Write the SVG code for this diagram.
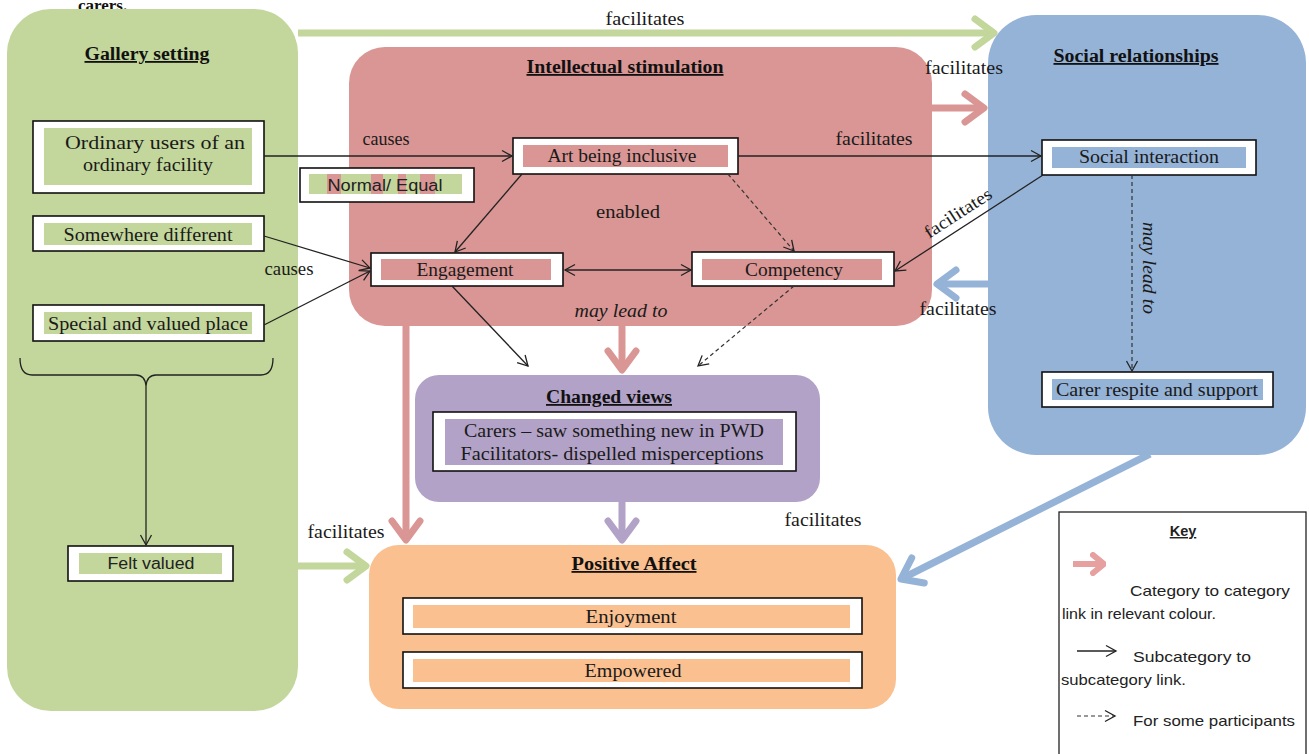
<svg xmlns="http://www.w3.org/2000/svg" width="1309" height="754" viewBox="0 0 1309 754">
<style>
.t{font-family:"Liberation Serif","Times New Roman",serif;font-size:19px;fill:#1a1a1a;text-anchor:middle}
.h{font-family:"Liberation Serif","Times New Roman",serif;font-size:18px;font-weight:bold;fill:#111;text-anchor:middle;text-decoration:underline}
.s{font-family:"Liberation Sans",Arial,sans-serif;font-size:16px;fill:#222;text-anchor:middle}
.k{font-family:"Liberation Sans",Arial,sans-serif;font-size:14.5px;fill:#222}
.lb{font-family:"Liberation Serif","Times New Roman",serif;font-size:18px;fill:#1a1a1a;text-anchor:middle}
.box{fill:#fff;stroke:#111;stroke-width:1.6}
.ln{fill:none;stroke:#222;stroke-width:1.3}
.dash{fill:none;stroke:#333;stroke-width:1.2;stroke-dasharray:4 3}
.cat{fill:none;stroke-width:7}
</style>
<defs>
<marker id="a" markerUnits="userSpaceOnUse" viewBox="-12 -7 14 14" markerWidth="14" markerHeight="14" refX="0" refY="0" orient="auto-start-reverse">
<path d="M-10,-5.5 L0,0 L-10,5.5" fill="none" stroke="#222" stroke-width="1.3"/>
</marker>
<marker id="g" markerUnits="userSpaceOnUse" viewBox="-24 -20 28 40" markerWidth="28" markerHeight="40" refX="0" refY="0" orient="auto">
<path d="M-19,-14 L0,0 L-19,14" fill="none" stroke="#c3d69b" stroke-width="7" stroke-linecap="round" stroke-linejoin="round"/>
</marker>
<marker id="r" markerUnits="userSpaceOnUse" viewBox="-24 -20 28 40" markerWidth="28" markerHeight="40" refX="0" refY="0" orient="auto">
<path d="M-19,-14 L0,0 L-19,14" fill="none" stroke="#d99694" stroke-width="7" stroke-linecap="round" stroke-linejoin="round"/>
</marker>
<marker id="b" markerUnits="userSpaceOnUse" viewBox="-24 -20 28 40" markerWidth="28" markerHeight="40" refX="0" refY="0" orient="auto">
<path d="M-19,-14 L0,0 L-19,14" fill="none" stroke="#95b3d7" stroke-width="7" stroke-linecap="round" stroke-linejoin="round"/>
</marker>
<marker id="p" markerUnits="userSpaceOnUse" viewBox="-24 -20 28 40" markerWidth="28" markerHeight="40" refX="0" refY="0" orient="auto">
<path d="M-19,-14 L0,0 L-19,14" fill="none" stroke="#b2a2c7" stroke-width="7" stroke-linecap="round" stroke-linejoin="round"/>
</marker>
<marker id="kr" markerUnits="userSpaceOnUse" viewBox="-14 -12 16 24" markerWidth="16" markerHeight="24" refX="0" refY="0" orient="auto">
<path d="M-11,-9 L0,0 L-11,9" fill="none" stroke="#e5a09f" stroke-width="6" stroke-linecap="round" stroke-linejoin="round"/>
</marker>
</defs>
<rect width="1309" height="754" fill="#fff"/>
<text x="78" y="11" style="font-family:'Liberation Serif',serif;font-size:17px;font-weight:bold;fill:#111">carers.</text>

<g id="gallery">
<rect x="7" y="9" width="291" height="702" rx="44" fill="#c3d69b"/>
<text class="h" x="147" y="60" textLength="125" lengthAdjust="spacingAndGlyphs">Gallery setting</text>
</g>
<g id="intellectual">
<rect x="349" y="47" width="583" height="279" rx="36" fill="#d99694"/>
<text class="h" x="625" y="73" textLength="197" lengthAdjust="spacingAndGlyphs">Intellectual stimulation</text>
</g>
<g id="social">
<rect x="988" y="15" width="318" height="440" rx="48" fill="#95b3d7"/>
<text class="h" x="1136" y="62" textLength="165" lengthAdjust="spacingAndGlyphs">Social relationships</text>
</g>
<g id="changed">
<rect x="415" y="375" width="405" height="127" rx="24" fill="#b2a2c7"/>
<text class="h" x="609" y="403" textLength="126" lengthAdjust="spacingAndGlyphs">Changed views</text>
<rect class="box" x="433" y="412" width="363" height="59"/>
<rect x="445" y="419" width="338" height="46" fill="#b2a2c7"/>
<text class="t" x="614" y="437" textLength="300" lengthAdjust="spacingAndGlyphs">Carers – saw something new in PWD</text>
<text class="t" x="612" y="460" textLength="303" lengthAdjust="spacingAndGlyphs">Facilitators- dispelled misperceptions</text>
</g>
<g id="positive">
<rect x="369" y="545" width="527" height="164" rx="30" fill="#fac08f"/>
<text class="h" x="634" y="570" textLength="125" lengthAdjust="spacingAndGlyphs">Positive Affect</text>
</g>
<g id="enjoyment">
<rect class="box" x="403" y="598" width="459" height="36"/>
<rect x="413" y="605" width="437" height="23" fill="#fac08f"/>
<text class="t" x="631" y="623" textLength="91" lengthAdjust="spacingAndGlyphs">Enjoyment</text>
</g>
<g id="empowered">
<rect class="box" x="403" y="652" width="459" height="36"/>
<rect x="413" y="659" width="437" height="23" fill="#fac08f"/>
<text class="t" x="633" y="677" textLength="97" lengthAdjust="spacingAndGlyphs">Empowered</text>
</g>
<g id="ordinary">
<rect class="box" x="33" y="121" width="231" height="72"/>
<rect x="44" y="128" width="208" height="57" fill="#c3d69b"/>
<text class="t" x="155" y="149" textLength="180" lengthAdjust="spacingAndGlyphs">Ordinary users of an</text>
<text class="t" x="148" y="171" textLength="130" lengthAdjust="spacingAndGlyphs">ordinary facility</text>
</g>
<g id="somewhere">
<rect class="box" x="33" y="216" width="231" height="35"/>
<rect x="44" y="223" width="208" height="22" fill="#c3d69b"/>
<text class="t" x="148" y="241" textLength="169" lengthAdjust="spacingAndGlyphs">Somewhere different</text>
</g>
<g id="special">
<rect class="box" x="33" y="305" width="231" height="36"/>
<rect x="44" y="312" width="208" height="22" fill="#c3d69b"/>
<text class="t" x="148" y="330" textLength="200" lengthAdjust="spacingAndGlyphs">Special and valued place</text>
</g>
<g id="felt">
<rect class="box" x="68" y="546" width="165" height="35"/>
<rect x="79" y="553" width="143" height="21" fill="#c3d69b"/>
<text class="s" x="151" y="569" textLength="87" lengthAdjust="spacingAndGlyphs">Felt valued</text>
</g>
<g id="normal">
<rect class="box" x="300" y="168" width="174" height="34"/>
<rect x="309" y="174" width="153" height="20" fill="#c3d69b"/>
<rect x="327" y="174" width="14" height="20" fill="#d99694"/>
<rect x="371" y="174" width="12" height="20" fill="#d99694"/>
<rect x="398" y="174" width="8" height="20" fill="#d99694"/>
<rect x="420" y="174" width="15" height="20" fill="#d99694"/>
<text class="s" x="385" y="191" textLength="115" lengthAdjust="spacingAndGlyphs">Normal/ Equal</text>
</g>
<g id="art">
<rect class="box" x="513" y="138" width="225" height="36"/>
<rect x="523" y="145" width="205" height="22" fill="#d99694"/>
<text class="t" x="622" y="162" textLength="149" lengthAdjust="spacingAndGlyphs">Art being inclusive</text>
</g>
<g id="engagement">
<rect class="box" x="371" y="253" width="192" height="33"/>
<rect x="381" y="259" width="170" height="21" fill="#d99694"/>
<text class="t" x="465" y="276" textLength="97" lengthAdjust="spacingAndGlyphs">Engagement</text>
</g>
<g id="competency">
<rect class="box" x="692" y="252" width="202" height="34"/>
<rect x="702" y="259" width="180" height="21" fill="#d99694"/>
<text class="t" x="794" y="276" textLength="98" lengthAdjust="spacingAndGlyphs">Competency</text>
</g>
<g id="interaction">
<rect class="box" x="1042" y="140" width="214" height="35"/>
<rect x="1052" y="147" width="194" height="21" fill="#95b3d7"/>
<text class="t" x="1149" y="163" textLength="140" lengthAdjust="spacingAndGlyphs">Social interaction</text>
</g>
<g id="carer">
<rect class="box" x="1042" y="372" width="231" height="35"/>
<rect x="1052" y="379" width="211" height="21" fill="#95b3d7"/>
<text class="t" x="1157" y="396" textLength="202" lengthAdjust="spacingAndGlyphs">Carer respite and support</text>
</g>

<g id="connectors">
<line class="cat" x1="298" y1="33" x2="994" y2="33" stroke="#c3d69b" marker-end="url(#g)"/>
<line class="cat" x1="931" y1="108" x2="984" y2="108" stroke="#d99694" marker-end="url(#r)"/>
<line class="cat" x1="988" y1="284" x2="937" y2="284" stroke="#95b3d7" marker-end="url(#b)"/>
<line class="cat" x1="406" y1="326" x2="406" y2="540" stroke="#d99694" marker-end="url(#r)"/>
<line class="cat" x1="622" y1="326" x2="622" y2="370" stroke="#d99694" marker-end="url(#r)"/>
<line class="cat" x1="622" y1="502" x2="622" y2="540" stroke="#b2a2c7" marker-end="url(#p)"/>
<line class="cat" x1="298" y1="566" x2="366" y2="566" stroke="#c3d69b" marker-end="url(#g)"/>
<line class="cat" x1="1150" y1="454" x2="901" y2="579" stroke="#95b3d7" marker-end="url(#b)"/>

<line class="ln" x1="264" y1="156" x2="512" y2="156" marker-end="url(#a)"/>
<line class="ln" x1="264" y1="236" x2="370" y2="268" marker-end="url(#a)"/>
<line class="ln" x1="264" y1="325" x2="370" y2="271" marker-end="url(#a)"/>
<line class="ln" x1="522" y1="174" x2="455" y2="252" marker-end="url(#a)"/>
<line class="dash" x1="728" y1="174" x2="794" y2="251" marker-end="url(#a)"/>
<line class="ln" x1="565" y1="270" x2="691" y2="270" marker-start="url(#a)" marker-end="url(#a)"/>
<line class="ln" x1="738" y1="156" x2="1041" y2="156" marker-end="url(#a)"/>
<line class="ln" x1="1043" y1="175" x2="895" y2="271" marker-end="url(#a)"/>
<line class="ln" x1="452" y1="286" x2="528" y2="366" marker-end="url(#a)"/>
<line class="dash" x1="794" y1="286" x2="698" y2="366" marker-end="url(#a)"/>
<line class="dash" x1="1132" y1="175" x2="1132" y2="371" marker-end="url(#a)"/>
<path class="ln" d="M20,358 Q20,375 32,375 L136,375 Q145,375 146,386 Q147,375 156,375 L261,375 Q273,375 273,358"/>
<line class="ln" x1="146" y1="386" x2="146" y2="545" marker-end="url(#a)"/>

<text class="lb" x="645" y="25" textLength="79" lengthAdjust="spacingAndGlyphs">facilitates</text>
<text class="lb" x="964" y="74" textLength="78" lengthAdjust="spacingAndGlyphs">facilitates</text>
<text class="lb" x="958" y="315" textLength="77" lengthAdjust="spacingAndGlyphs">facilitates</text>
<text class="lb" x="874" y="145" textLength="77" lengthAdjust="spacingAndGlyphs">facilitates</text>
<text class="lb" x="346" y="538" textLength="77" lengthAdjust="spacingAndGlyphs">facilitates</text>
<text class="lb" x="823" y="526" textLength="77" lengthAdjust="spacingAndGlyphs">facilitates</text>
<text class="lb" x="958" y="219" textLength="77" lengthAdjust="spacingAndGlyphs" transform="rotate(-33 958 213)">facilitates</text>
<text class="lb" x="386" y="145" textLength="47" lengthAdjust="spacingAndGlyphs">causes</text>
<text class="lb" x="289" y="275" textLength="49" lengthAdjust="spacingAndGlyphs">causes</text>
<text class="lb" x="628" y="218" textLength="64" lengthAdjust="spacingAndGlyphs">enabled</text>
<text class="lb" x="621" y="317" font-style="italic" textLength="93" lengthAdjust="spacingAndGlyphs">may lead to</text>
<text class="lb" x="1143" y="268" font-style="italic" textLength="92" lengthAdjust="spacingAndGlyphs" transform="rotate(90 1143 268)">may lead to</text>
</g>

<g id="key">
<rect x="1059" y="512" width="247" height="250" fill="#fff" stroke="#222" stroke-width="1.3"/>
<text class="k" x="1183" y="536" text-anchor="middle" font-weight="bold" text-decoration="underline">Key</text>
<line x1="1073" y1="564" x2="1104" y2="564" stroke="#e5a09f" stroke-width="6" marker-end="url(#kr)"/>
<text class="k" x="1130" y="596" textLength="160" lengthAdjust="spacingAndGlyphs">Category to category</text>
<text class="k" x="1062" y="619" textLength="154" lengthAdjust="spacingAndGlyphs">link in relevant colour.</text>
<line class="ln" x1="1077" y1="651" x2="1116" y2="651" marker-end="url(#a)"/>
<text class="k" x="1133" y="662" textLength="118" lengthAdjust="spacingAndGlyphs">Subcategory to</text>
<text class="k" x="1061" y="685" textLength="125" lengthAdjust="spacingAndGlyphs">subcategory link.</text>
<line class="dash" x1="1077" y1="716" x2="1115" y2="716" marker-end="url(#a)"/>
<text class="k" x="1133" y="726" textLength="162" lengthAdjust="spacingAndGlyphs">For some participants</text>
</g>
</svg>
